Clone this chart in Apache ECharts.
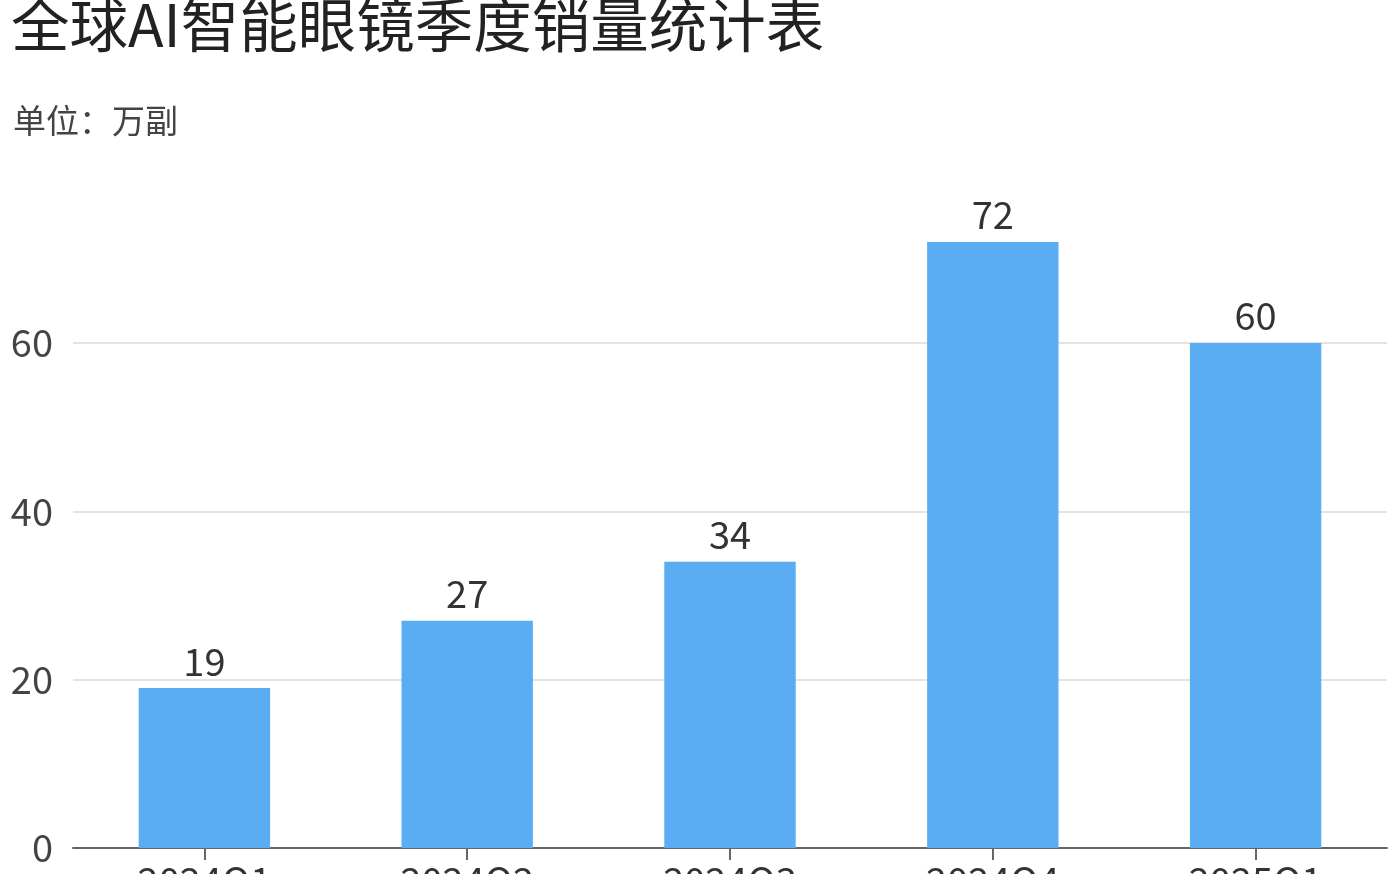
<!DOCTYPE html>
<html>
<head>
<meta charset="utf-8">
<script src="https://cdn.jsdelivr.net/npm/echarts@6/dist/echarts.min.js"></script>
<style>
html,body{margin:0;padding:0;background:#fff;}
#chart{width:1399px;height:874px;}
</style>
</head>
<body>
<div id="chart"></div>
<script>
const titleText = '全球AI智能眼镜季度销量统计表';
const unitText = '单位：万副';
const categories = ['2024Q1', '2024Q2', '2024Q3', '2024Q4', '2025Q1'];
const sales = [19, 27, 34, 72, 60];

const FONT = '"Noto Sans CJK SC", "Noto Sans", sans-serif';
const chart = echarts.init(document.getElementById('chart'));
chart.setOption({
  backgroundColor: '#fff',
  animation: false,
  textStyle: { fontFamily: FONT },
  title: [
    { text: titleText, left: 6, top: -9,
      textStyle: { fontSize: 58.5, fontWeight: 'normal', color: '#222', fontFamily: FONT } },
    { text: unitText, left: 8, top: 99,
      textStyle: { fontSize: 33, fontWeight: 'normal', color: '#444', fontFamily: FONT } }
  ],
  grid: { left: 73, right: 12, top: 242, bottom: 26, containLabel: false, outerBoundsMode: 'none' },
  xAxis: {
    type: 'category',
    data: categories,
    axisLine: { show: true, lineStyle: { color: '#666', width: 2 } },
    axisTick: { show: true, alignWithLabel: true, length: 12, lineStyle: { color: '#666', width: 2 } },
    axisLabel: { fontSize: 38, color: '#333', margin: 14, fontFamily: FONT }
  },
  yAxis: {
    type: 'value',
    min: 0,
    max: 'dataMax',
    interval: 20,
    axisLine: { show: false },
    axisTick: { show: false },
    axisLabel: { fontSize: 38, color: '#444', margin: 20, showMaxLabel: false, fontFamily: FONT },
    splitLine: { show: true, showMaxLine: false, lineStyle: { color: '#e3e3e3', width: 2 } }
  },
  series: [{
    type: 'bar',
    data: sales,
    barWidth: '50%',
    itemStyle: { color: '#5aadf3' },
    label: { show: true, position: 'top', distance: 8, fontSize: 38, color: '#333', fontFamily: FONT }
  }]
});
</script>
</body>
</html>
